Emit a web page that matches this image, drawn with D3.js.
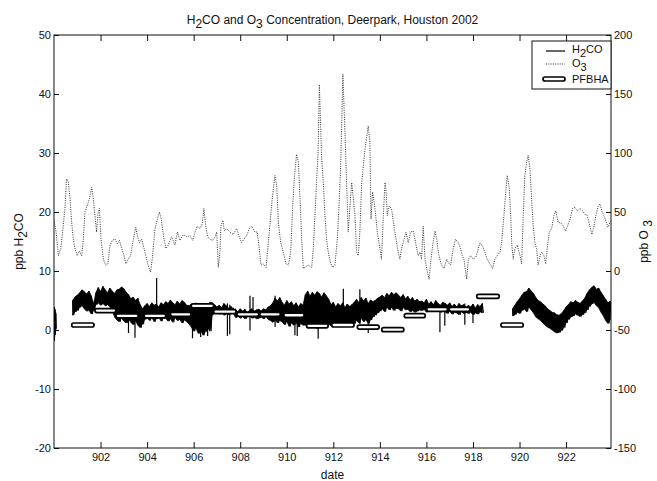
<!DOCTYPE html>
<html>
<head>
<meta charset="utf-8">
<script src="https://cdn.jsdelivr.net/npm/d3@7"></script>
<style>
  body { margin: 0; background: #fff; }
  svg { font-family: "Liberation Sans", Arial, sans-serif; }
</style>
</head>
<body>
<div id="chart"></div>
<script>
// ---- data ----
const xTicks = [902, 904, 906, 908, 910, 912, 914, 916, 918, 920, 922];
const leftTicks = [-20, -10, 0, 10, 20, 30, 40, 50];
const rightTicks = [-150, -100, -50, 0, 50, 100, 150, 200];

// O3 (ppb), [day, value]
const o3Series = [
  [900.00, 44], [900.09, 33], [900.19, 13], [900.29, 19], [900.37, 33], [900.47, 53], [900.54, 78], [900.62, 75],
  [900.69, 61], [900.76, 41], [900.83, 27], [900.90, 19], [901.00, 13], [901.09, 17], [901.19, 13], [901.26, 27],
  [901.33, 50], [901.40, 54], [901.52, 61], [901.62, 71], [901.69, 61], [901.76, 47], [901.83, 33], [901.90, 50],
  [901.95, 53], [902.02, 27], [902.12, 10], [902.22, 5], [902.31, 6], [902.41, 22], [902.51, 26], [902.62, 27],
  [902.72, 23], [902.81, 26], [902.91, 19], [903.01, 13], [903.09, 6], [903.19, 10], [903.29, 13], [903.41, 27],
  [903.51, 37], [903.58, 30], [903.67, 24], [903.77, 27], [903.87, 19], [903.98, 10], [904.07, 3], [904.15, -1],
  [904.22, 10], [904.34, 36], [904.44, 44], [904.53, 50], [904.61, 44], [904.70, 30], [904.81, 19], [904.91, 22],
  [905.05, 29], [905.20, 22], [905.30, 33], [905.41, 26], [905.56, 31], [905.70, 29], [905.84, 30], [905.96, 26],
  [906.06, 33], [906.16, 38], [906.27, 36], [906.37, 40], [906.44, 53], [906.52, 38], [906.60, 29], [906.70, 27],
  [906.82, 26], [906.92, 29], [906.99, 33], [907.06, 3], [907.13, 16], [907.17, 38], [907.25, 43], [907.32, 34],
  [907.42, 36], [907.56, 33], [907.70, 31], [907.85, 36], [907.96, 29], [908.06, 24], [908.16, 27], [908.28, 30],
  [908.39, 36], [908.49, 38], [908.63, 33], [908.73, 33], [908.82, 19], [908.89, 5], [908.99, 6], [909.11, 3],
  [909.21, 24], [909.31, 47], [909.39, 64], [909.49, 81], [909.57, 72], [909.64, 41], [909.74, 24], [909.85, 16],
  [909.97, 6], [910.07, 5], [910.17, 16], [910.25, 53], [910.31, 75], [910.42, 99], [910.50, 92], [910.57, 61],
  [910.64, 27], [910.71, 2], [910.78, 3], [910.92, 5], [911.07, 3], [911.14, 19], [911.21, 47], [911.28, 75],
  [911.35, 103], [911.40, 158], [911.50, 95], [911.57, 75], [911.64, 47], [911.71, 27], [911.78, 16], [911.88, 7],
  [911.97, 3], [912.07, 5], [912.17, 27], [912.24, 53], [912.31, 86], [912.37, 132], [912.41, 167], [912.50, 118],
  [912.57, 75], [912.64, 33], [912.71, 53], [912.79, 75], [912.86, 61], [912.93, 47], [913.00, 16], [913.07, 13],
  [913.14, 33], [913.22, 75], [913.29, 89], [913.36, 103], [913.50, 123], [913.57, 109], [913.62, 44], [913.69, 67],
  [913.79, 53], [913.89, 33], [914.00, 19], [914.07, 10], [914.15, 47], [914.22, 75], [914.26, 70], [914.32, 47],
  [914.40, 55], [914.50, 53], [914.62, 36], [914.72, 24], [914.79, 16], [914.86, 10], [914.93, 19], [915.00, 24],
  [915.12, 33], [915.22, 24], [915.32, 33], [915.43, 34], [915.51, 27], [915.58, 19], [915.65, 13], [915.72, 16],
  [915.79, 10], [915.86, 38], [915.94, 10], [916.01, 2], [916.11, -7], [916.18, 7], [916.27, 22], [916.37, 34],
  [916.44, 27], [916.51, 16], [916.58, 10], [916.65, 5], [916.75, 2], [916.87, 10], [916.94, 7], [917.04, 5],
  [917.15, 19], [917.25, 27], [917.37, 24], [917.47, 19], [917.54, 13], [917.61, 10], [917.73, -7], [917.80, 10],
  [917.90, 13], [918.01, 10], [918.13, 12], [918.23, 19], [918.30, 24], [918.41, 21], [918.51, 16], [918.61, 10],
  [918.73, 6], [918.84, 2], [918.94, 10], [919.04, 13], [919.16, 16], [919.23, 24], [919.33, 47], [919.42, 70],
  [919.47, 81], [919.56, 70], [919.62, 47], [919.67, 22], [919.73, 10], [919.80, 19], [919.90, 22], [920.02, 13],
  [920.09, 6], [920.16, 47], [920.23, 81], [920.30, 92], [920.37, 98], [920.45, 86], [920.52, 61], [920.59, 38],
  [920.66, 24], [920.73, 19], [920.80, 5], [920.88, 13], [920.95, 16], [921.05, 13], [921.12, 6], [921.19, 19],
  [921.28, 33], [921.38, 36], [921.48, 47], [921.56, 51], [921.66, 41], [921.76, 41], [921.88, 38], [921.98, 34],
  [922.06, 38], [922.17, 44], [922.28, 53], [922.38, 54], [922.48, 51], [922.59, 53], [922.71, 51], [922.81, 48],
  [922.91, 47], [923.02, 38], [923.11, 31], [923.20, 38], [923.28, 47], [923.38, 55], [923.45, 57], [923.55, 50],
  [923.67, 45], [923.80, 37], [923.90, 42]
];

// H2CO (ppb): upper / lower readings of the noisy record
// piece A: 900.00 - 900.08, every 0.04 day
const h2coHiA = [3.9, 3.5, 2.8];
const h2coLoA = [-1.8, -0.8, 0.2];
// piece B: 900.8 - 918.4, every 0.1 day
const h2coHiB = [
  5.0, 5.6, 5.9, 6.3, 6.8, 6.5, 6.1, 6.6, 5.8, 4.4,
  6.3, 7.2, 6.5, 7.4, 6.8, 6.3, 7.1, 6.6, 6.2, 6.8,
  6.9, 7.3, 7.0, 6.4, 6.0, 5.3, 5.6, 5.0, 5.4, 4.3,
  3.6, 4.1, 4.5, 4.0, 4.6, 4.2, 4.4, 3.9, 4.6, 4.3,
  4.8, 4.5, 5.1, 4.6, 4.3, 4.9, 4.4, 5.0, 4.7, 4.2,
  4.1, 4.4, 3.8, 4.6, 3.9, 4.3, 3.7, 4.5, 4.0, 4.7,
  4.6, 4.3, 3.9, 4.2, 3.8, 4.5, 4.1, 3.7, 4.0, 3.6,
  3.4, 3.1, 3.6, 3.2, 3.5, 3.0, 3.3, 3.6, 3.2, 3.4,
  3.5, 3.2, 3.6, 3.4, 3.9, 4.1, 4.6, 5.4, 4.9, 5.5,
  4.7, 4.2, 5.0, 4.4, 4.8, 4.1, 4.6, 3.9, 4.5, 4.2,
  6.0, 6.6, 5.7, 6.4, 5.9, 6.5, 6.2, 5.6, 6.3, 5.8,
  5.2, 4.3, 4.7, 3.9, 4.5, 4.1, 4.6, 3.8, 4.4, 4.0,
  4.3, 4.7, 5.2, 4.6, 5.5, 4.9, 5.4, 4.5, 5.1, 4.8,
  5.0, 5.4, 5.6, 5.9, 5.5, 6.2, 5.8, 6.4, 6.0, 6.3,
  5.9, 5.5, 6.0, 5.3, 5.7, 5.1, 5.5, 4.9, 5.2, 4.8,
  4.9, 4.6, 5.2, 4.4, 4.8, 4.3, 5.0, 4.5, 4.2, 4.7,
  4.5, 4.2, 4.6, 4.0, 4.4, 3.9, 4.5, 4.1, 4.3, 3.8,
  4.2, 3.9, 4.4, 3.7, 4.3, 4.0, 4.5
];
const h2coLoB = [
  2.5, 3.1, 3.3, 3.8, 4.2, 3.6, 3.2, 3.4, 2.7, 3.3,
  4.3, 4.6, 4.2, 4.5, 4.1, 4.3, 3.9, 3.4, 2.2, 1.7,
  1.4, 2.0, 1.5, 1.2, 1.9, 1.3, 0.9, 1.6, 0.8, 0.4,
  1.0, 1.8, 2.1, 1.6, 2.2, 1.4, 1.9, 2.2, 1.5, 2.0,
  2.0, 1.5, 1.9, 1.3, 2.1, 1.6, 1.8, 1.2, 1.7, 1.4,
  1.0, 0.5, -0.2, 0.3, -0.6, 0.1, -0.9, -0.3, 0.4, -0.2,
  2.6, 2.9, 3.1, 2.7, 3.0, 2.5, 2.8, 2.6, 3.0, 2.9,
  2.1, 2.4, 2.0, 2.3, 1.9, 2.2, 2.4, 2.0, 2.2, 1.9,
  2.0, 2.2, 1.9, 2.3, 1.8, 1.6, 1.3, 1.8, 1.2, 1.6,
  1.4, 0.9, 1.5, 0.6, 1.2, 0.8, 1.3, 0.5, 1.1, 0.8,
  0.9, 0.3, 1.1, 0.5, 0.9, 0.2, 0.7, 1.2, 0.4, 0.8,
  1.0, 0.7, 1.2, 0.8, 1.3, 0.6, 1.1, 0.9, 1.2, 0.7,
  0.9, 1.1, 1.6, 1.2, 2.0, 1.4, 1.8, 1.1, 1.7, 2.2,
  2.5, 2.9, 3.2, 3.6, 3.1, 3.9, 3.4, 3.8, 3.3, 3.7,
  3.6, 3.2, 3.8, 3.4, 3.5, 3.1, 3.3, 3.0, 3.2, 3.4,
  3.3, 3.5, 3.0, 3.4, 3.1, 3.6, 3.2, 3.4, 3.0, 3.3,
  3.1, 2.8, 3.2, 2.7, 3.0, 2.9, 2.6, 3.1, 2.8, 3.0,
  2.8, 3.0, 2.6, 2.9, 2.7, 3.1, 2.9
];
// piece C: 919.7 - 923.9, every 0.1 day
const h2coHiC = [
  3.6, 4.2, 4.8, 5.3, 5.9, 6.4, 6.5, 7.1, 6.6, 6.2,
  5.5, 5.0, 4.8, 4.4, 4.1, 3.6, 3.3, 3.0, 2.9, 2.6,
  2.5, 2.8, 3.3, 3.9, 4.3, 4.8, 4.6, 5.0, 4.7, 4.5,
  4.9, 5.4, 6.2, 6.8, 7.2, 7.5, 6.9, 7.1, 6.4, 5.8,
  5.2, 4.6, 4.9
];
const h2coLoC = [
  2.4, 2.6, 3.0, 2.8, 3.3, 3.6, 3.1, 3.9, 3.4, 2.9,
  2.2, 1.9, 1.6, 1.2, 0.8, 0.5, 0.3, 0.0, -0.3, -0.5,
  -0.4, -0.1, 0.4, 1.2, 1.8, 2.2, 2.4, 2.7, 2.5, 2.3,
  2.6, 2.9, 3.4, 4.0, 4.4, 4.7, 4.1, 3.8, 3.0, 2.4,
  1.6, 1.1, 1.8
];
// single readings that stick out of the band: [day, low, high]
const h2coSpikes = [
  [903.20, -0.5, 3.0], [903.48, -1.3, 5.0], [904.41, 2.0, 8.8], [905.95, -1.4, 3.0],
  [906.30, -1.2, 2.0], [906.60, -1.0, 2.5], [907.45, -1.0, 4.5], [907.55, -0.7, 4.3],
  [908.42, -0.1, 5.8], [908.55, 2.0, 5.6], [909.50, 0.5, 5.8], [910.35, -0.9, 4.0],
  [910.45, -1.0, 3.0], [911.35, -1.5, 5.5], [912.43, 0.5, 7.0], [913.14, 1.0, 6.9],
  [913.50, -0.5, 3.0], [916.58, -0.4, 4.0], [916.79, 0.7, 4.0], [917.65, 0.9, 4.5],
  [918.00, 1.2, 4.0]
];

// PFBHA samples: [start day, end day, H2CO ppb]
const pfbha = [
  [900.76, 901.72, 0.85], [901.76, 902.66, 3.3], [902.66, 903.62, 2.4], [903.87, 904.80, 2.4],
  [905.00, 905.89, 2.65], [905.89, 906.86, 4.1], [906.86, 907.82, 3.1], [907.86, 908.80, 2.65],
  [908.84, 909.73, 2.65], [909.87, 910.75, 2.5], [910.85, 911.78, 0.7], [911.93, 912.89, 0.85],
  [913.03, 913.97, 0.5], [914.08, 915.03, 0.06], [915.05, 915.95, 2.43], [916.01, 916.91, 3.5],
  [916.98, 917.87, 3.5], [918.16, 919.13, 5.7], [919.20, 920.16, 0.85]
];

// ---- chart ----
const W = 657, H = 481;
const margin = { top: 35, right: 46, bottom: 33, left: 54 };
const iw = W - margin.left - margin.right;
const ih = H - margin.top - margin.bottom;
const ink = "#111";

const x = d3.scaleLinear().domain([900, 923.93]).range([0, iw]);
const yL = d3.scaleLinear().domain([-20, 50]).range([ih, 0]);
const yR = d3.scaleLinear().domain([-150, 200]).range([ih, 0]);

const svg = d3.select("#chart").append("svg")
    .attr("width", W)
    .attr("height", H);

svg.append("defs").append("clipPath").attr("id", "plot")
    .append("rect").attr("width", iw).attr("height", ih);

const g = svg.append("g")
    .attr("transform", "translate(" + margin.left + "," + margin.top + ")");

// text with subscripts: parts = [[string, isSub], ...]
function subText(sel, parts, drop) {
    let down = false;
    parts.forEach(p => {
        const t = sel.append("tspan").text(p[0]);
        if (p[1] && !down) { t.attr("dy", drop); down = true; }
        else if (!p[1] && down) { t.attr("dy", -drop); down = false; }
    });
    return sel;
}

const plot = g.append("g").attr("clip-path", "url(#plot)");

// O3, dotted
plot.append("path")
    .datum(o3Series)
    .attr("fill", "none")
    .attr("stroke", "#333")
    .attr("stroke-width", 1)
    .attr("stroke-dasharray", "1,1.3")
    .attr("d", d3.line().x(d => x(d[0])).y(d => yR(d[1])));

// H2CO: filled band between the readings, with the raw trace on top
function band(start, step, hi, lo) {
    return hi.map((h, i) => ({ day: start + i * step, hi: h, lo: lo[i] }));
}
function zigzag(start, step, hi, lo) {
    return hi.flatMap((h, i) => [
        [start + i * step, h],
        [start + (i + 0.5) * step, lo[i]]
    ]);
}
const h2coParts = [
    [900.0, 0.04, h2coHiA, h2coLoA],
    [900.8, 0.1, h2coHiB, h2coLoB],
    [919.7, 0.1, h2coHiC, h2coLoC]
];

plot.selectAll("path.h2coBand")
    .data(h2coParts.map(p => band(...p)))
    .enter().append("path")
    .attr("class", "h2coBand")
    .attr("fill", "#000")
    .attr("stroke", "#000")
    .attr("stroke-width", 0.8)
    .attr("d", d3.area().x(d => x(d.day)).y0(d => yL(d.lo)).y1(d => yL(d.hi)));

plot.selectAll("path.h2co")
    .data(h2coParts.map(p => zigzag(...p)))
    .enter().append("path")
    .attr("class", "h2co")
    .attr("fill", "none")
    .attr("stroke", "#000")
    .attr("stroke-width", 1.1)
    .attr("d", d3.line().x(d => x(d[0])).y(d => yL(d[1])));

plot.selectAll("line.spike")
    .data(h2coSpikes)
    .enter().append("line")
    .attr("class", "spike")
    .attr("x1", d => x(d[0])).attr("x2", d => x(d[0]))
    .attr("y1", d => yL(d[1])).attr("y2", d => yL(d[2]))
    .attr("stroke", "#000")
    .attr("stroke-width", 1.2);

// PFBHA boxes
plot.selectAll("rect.pf")
    .data(pfbha)
    .enter().append("rect")
    .attr("class", "pf")
    .attr("x", d => x(d[0]))
    .attr("y", d => yL(d[2]) - 2)
    .attr("width", d => x(d[1]) - x(d[0]))
    .attr("height", 4)
    .attr("rx", 2)
    .attr("fill", "#fff")
    .attr("stroke", "#000")
    .attr("stroke-width", 1.7);

// axes
const fmt = d => String(d);
function styleAxis(a) {
    a.select(".domain").remove();
    a.attr("font-size", 11).attr("font-family", null);
    a.selectAll("line").attr("stroke", ink);
    a.selectAll("text").attr("fill", ink);
}

g.append("g")
    .attr("transform", "translate(0," + ih + ")")
    .call(d3.axisBottom(x).tickValues(xTicks).tickSize(-6).tickPadding(5).tickFormat(fmt))
    .call(styleAxis);

g.append("g")
    .call(d3.axisTop(x).tickValues(xTicks).tickSize(-6).tickFormat(""))
    .call(styleAxis);

g.append("g")
    .call(d3.axisLeft(yL).tickValues(leftTicks).tickSize(-5).tickPadding(3).tickFormat(fmt))
    .call(styleAxis);

g.append("g")
    .attr("transform", "translate(" + iw + ",0)")
    .call(d3.axisRight(yR).tickValues(rightTicks).tickSize(-5).tickPadding(3).tickFormat(fmt))
    .call(styleAxis);

g.append("rect")
    .attr("width", iw).attr("height", ih)
    .attr("fill", "none")
    .attr("stroke", ink)
    .attr("stroke-width", 1);

// labels
subText(svg.append("text")
    .attr("x", margin.left + iw / 2).attr("y", 24)
    .attr("text-anchor", "middle").attr("font-size", 12).attr("fill", ink),
    [["H", 0], ["2", 1], ["CO and O", 0], ["3", 1], [" Concentration, Deerpark, Houston 2002", 0]], 4);

svg.append("text")
    .attr("x", margin.left + iw / 2).attr("y", 479)
    .attr("text-anchor", "middle").attr("font-size", 12).attr("fill", ink)
    .text("date");

subText(svg.append("text")
    .attr("transform", "translate(23," + (margin.top + ih / 2) + ") rotate(-90)")
    .attr("text-anchor", "middle").attr("font-size", 12).attr("fill", ink),
    [["ppb H", 0], ["2", 1], ["CO", 0]], 4);

subText(svg.append("text")
    .attr("transform", "translate(648," + (margin.top + ih / 2) + ") rotate(-90)")
    .attr("text-anchor", "middle").attr("font-size", 12).attr("fill", ink),
    [["ppb O", 0], [" 3", 1]], 4);

// legend
const lg = g.append("g").attr("transform", "translate(" + (iw - 79) + ",6)");
lg.append("rect")
    .attr("width", 79).attr("height", 48)
    .attr("fill", "#fff").attr("stroke", ink).attr("stroke-width", 1);
lg.append("line")
    .attr("x1", 14).attr("x2", 33).attr("y1", 10).attr("y2", 10)
    .attr("stroke", "#000").attr("stroke-width", 1.2);
subText(lg.append("text").attr("x", 40).attr("y", 12).attr("font-size", 11).attr("fill", ink),
    [["H", 0], ["2", 1], ["CO", 0]], 4);
lg.append("line")
    .attr("x1", 14).attr("x2", 33).attr("y1", 23).attr("y2", 23)
    .attr("stroke", "#333").attr("stroke-dasharray", "1,1.3");
subText(lg.append("text").attr("x", 40).attr("y", 26).attr("font-size", 11).attr("fill", ink),
    [["O", 0], ["3", 1]], 4);
lg.append("rect")
    .attr("x", 11).attr("y", 36).attr("width", 22).attr("height", 4).attr("rx", 2)
    .attr("fill", "#fff").attr("stroke", "#000").attr("stroke-width", 1.7);
lg.append("text").attr("x", 40).attr("y", 42).attr("font-size", 11).attr("fill", ink)
    .text("PFBHA");
</script>
</body>
</html>
